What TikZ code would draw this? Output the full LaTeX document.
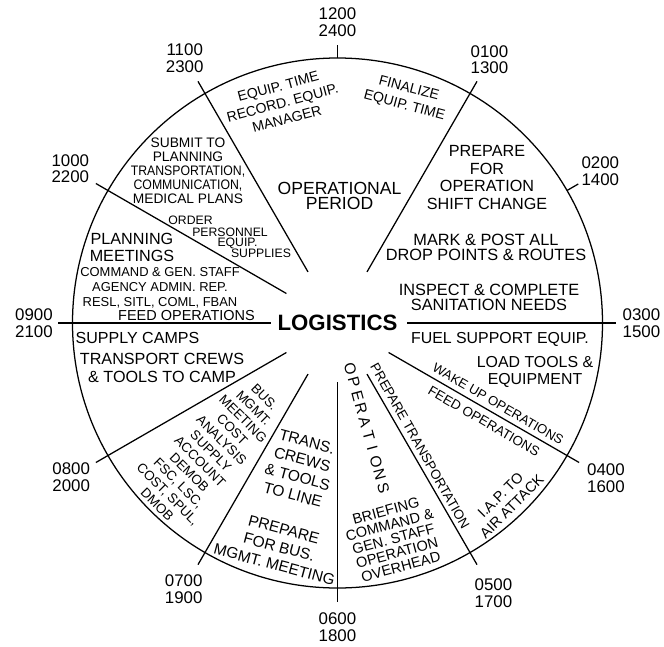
\documentclass[tikz,border=0pt]{standalone}
\usepackage{fontspec}
\setmainfont{Liberation Sans}
\usepackage{graphicx}
\newcommand{\narrowtxt}[1]{\scalebox{0.89}[1]{#1}}

\begin{document}
\begin{tikzpicture}[x=0.025cm, y=0.025cm, line width=0.9pt,
    every node/.style={inner sep=0pt, align=center},
    sz/.style 2 args={font=\fontsize{#1}{#2}\selectfont},
    hourlbl/.style={sz={12}{12}}]
  \useasboundingbox (-337.5,-323) rectangle (326.5,323);

  % --- clock face ---
  \draw (0,0) circle (265);
  \foreach \ang in {60,-30,-60,-90,-120,-150,150,120}
    \draw (\ang:59) -- (\ang:279);
  \draw (0:69.5) -- (0:278.5);
  \draw (180:66.5) -- (180:279.5);
  \foreach \ang in {90,30}
    \draw (\ang:265) -- (\ang:278);

  % --- hour labels ---
  \foreach \ang/\r/\ta/\tb in {90/300.5/1200/2400, 60/304/0100/1300, 30/303.5/0200/1400,
      0/304/0300/1500, -30/310/0400/1600, -60/312/0500/1700, -90/304/0600/1800,
      -120/307.5/0700/1900, -150/307.5/0800/2000, 180/303.5/0900/2100,
      150/308.5/1000/2200, 120/305.5/1100/2300}
    \node[hourlbl] (h\ta) at (\ang:\r) {\ta\\\tb};

  % --- centre ---
  \node[font=\bfseries\fontsize{15.8}{16}\selectfont] (logistics) at (0,0) {LOGISTICS};

  % --- 1100 to 0100 ---
  \node[sz={10}{12}, rotate=15] (recequip) at (104:227) {EQUIP. TIME\\RECORD. EQUIP.\\MANAGER};
  \node[sz={10}{12.5}, rotate=-15] (finalize) at (73:236) {FINALIZE\\EQUIP. TIME};
  \node[sz={12.5}{10.5}] (opperiod) at (2,127) {OPERATIONAL\\PERIOD};

  % --- 0900 to 1100 ---
  \node[sz={9.8}{10}] (submit) at (-149.5,152)
    {SUBMIT TO\\PLANNING\\\narrowtxt{TRANSPORTATION,}\\\narrowtxt{COMMUNICATION,}\\MEDICAL PLANS};
  \begin{scope}[sz={8.7}{9}]
    \node (order) at (-147,103) {ORDER};
    \node (personnel) at (-107.5,90.5) {PERSONNEL};
    \node (equipsup) at (-100,80) {EQUIP.};
    \node (supplies) at (-76.5,69.5) {SUPPLIES};
  \end{scope}
  \node[sz={11.5}{12}] (planning) at (-205.5,75.5) {PLANNING\\MEETINGS};
  \node[sz={9.2}{10.7}] (cmdstaff) at (-177.5,35)
    {COMMAND \& GEN. STAFF\\AGENCY ADMIN. REP.\\RESL, SITL, COML, FBAN};
  \node[sz={10.3}{11}] (feedleft) at (-151,7.5) {FEED OPERATIONS};

  % --- 0600 to 0900 ---
  \node[sz={11.4}{12}] (camps) at (-200,-14.5) {SUPPLY CAMPS};
  \node[sz={11.5}{13}] (crewscamp) at (-175.5,-45) {TRANSPORT CREWS\\\& TOOLS TO CAMP};
  \node[sz={9.5}{10.8}, rotate=-45] (busmgmt) at (225.3:180)
    {BUS.\\MGMT.\\MEETING\\COST\\ANALYSIS\\SUPPLY\\ACCOUNT\\DEMOB\\FSC, LSC,\\COST, SPUL,\\DMOB};
  \node[sz={11}{13}, rotate=-15] (crewsline) at (255.5:150) {TRANS.\\CREWS\\\& TOOLS\\TO LINE};
  \node[sz={11}{13}, rotate=-15] (prepbus) at (255.4:231.5) {PREPARE\\FOR BUS.\\MGMT. MEETING};

  % --- 0300 to 0600 ---
  \foreach \ch [count=\i from 0] in {O,P,E,R,A,T,I,O,N,S}
    \node[sz={11}{11}, rotate=-75] (ops\i) at (-74.5:{48+13.7*\i}) {\ch};
  \node[sz={10.3}{10.3}, rotate=15] (briefing) at (-75.5:223)
    {BRIEFING\\COMMAND \&\\GEN. STAFF\\OPERATION\\OVERHEAD};
  \node[sz={9.5}{9.5}, rotate=-60.5] (preptrans) at (-56.2:148.4) {PREPARE TRANSPORTATION};
  \node[sz={10.3}{11.5}, rotate=45] (iap) at (-46.5:245) {I.A.P. TO\\AIR ATTACK};
  \node[sz={9.3}{9.3}, rotate=-30] (wakeup) at (-26.8:180) {WAKE UP OPERATIONS};
  \node[sz={9.5}{9.5}, rotate=-30] (feedright) at (-33.8:176.3) {FEED OPERATIONS};
  \node[sz={11.3}{11.9}] (loadtools) at (197.5,-49) {LOAD TOOLS \&\\EQUIPMENT};
  \node[sz={11.3}{12}] (fuel) at (162.5,-16.5) {FUEL SUPPORT EQUIP.};

  % --- 0100 to 0300 ---
  \node[sz={11.6}{10.7}] (inspect) at (151.5,25.5) {INSPECT \& COMPLETE\\SANITATION NEEDS};
  \node[sz={11.6}{10.7}] (markpost) at (148.5,76) {MARK \& POST ALL\\DROP POINTS \& ROUTES};
  \node[sz={11.5}{12.6}] (shift) at (149.5,145.5) {PREPARE\\FOR\\OPERATION\\SHIFT CHANGE};
\end{tikzpicture}
\end{document}
